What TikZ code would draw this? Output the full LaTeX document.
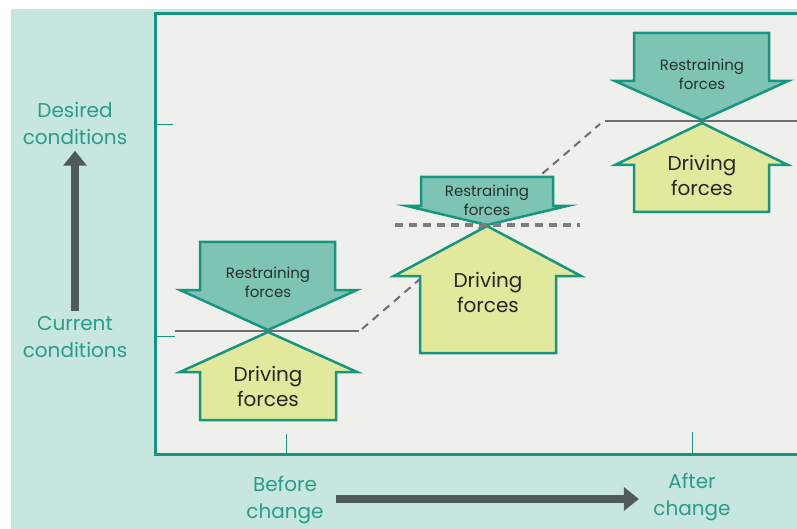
\documentclass[tikz,border=0pt]{standalone}
\usepackage{fontspec}
\setmainfont{Poppins}
\usetikzlibrary{arrows.meta}

\definecolor{pagebg}{HTML}{C6E6DF}
\definecolor{panelbg}{HTML}{EFF0EB}
\definecolor{frameteal}{HTML}{16967F}
\definecolor{labelteal}{HTML}{2A9C88}
\definecolor{restrainfill}{HTML}{7DC4B5}
\definecolor{drivefill}{HTML}{E3E99C}
\definecolor{levelgray}{HTML}{6E6E6E}
\definecolor{darkarrow}{HTML}{505B59}
\definecolor{darktext}{HTML}{26302E}

\begin{document}
\begin{tikzpicture}[x=1pt,y=-1pt,
  restrain/.style={fill=restrainfill, draw=frameteal, line width=2.5pt},
  drive/.style={fill=drivefill, draw=frameteal, line width=2.5pt},
  smalltext/.style={font=\fontsize{15}{19}\selectfont, text=darktext, align=center},
  bigtext/.style={font=\fontsize{20}{25}\selectfont, text=black!85, align=center},
  axislabel/.style={font=\fontsize{20}{27}\selectfont, text=labelteal, align=center},
  level/.style={draw=levelgray, line width=2pt},
  tick/.style={draw=frameteal, line width=1pt},
  bigarrow/.style={draw=darkarrow, line width=8pt, -{Triangle[width=23pt,length=15pt]}}]

  \fill[white] (0,0) rectangle (797,529);
  \useasboundingbox (0,0) rectangle (797,529);
  \fill[pagebg] (11,9) rectangle (797,529);

  % panel
  \begin{scope}
    \clip (0,0) rectangle (797,529);
    \draw[fill=panelbg, draw=frameteal, line width=3pt] (155,14) rectangle (820,454);
  \end{scope}
  \draw[tick] (155,125) -- (173,125);
  \draw[tick] (155,336) -- (175,336);
  \draw[tick] (286,434) -- (286,454);
  \draw[tick] (692,432) -- (692,454);

  % levels
  \draw[level] (175,331) -- (359,331);
  \draw[level, dash pattern=on 8pt off 6pt] (362,329) -- (600,124);
  \draw[level] (605,121) -- (797,121);

  % before change
  \draw[restrain] (200,242) -- (335,242) -- (335,290) -- (357,290) -- (268,330)
    -- (180,290) -- (200,290) -- cycle;
  \draw[drive] (268,332) -- (357,372) -- (336,372) -- (336,420) -- (200,420)
    -- (200,372) -- (180,372) -- cycle;
  \node[smalltext] (restrain1) at (268,282) {Restraining\\forces};
  \node[bigtext] (drive1) at (268,386) {Driving\\forces};

  % during change
  \draw[restrain] (421,177) -- (553,177) -- (553,206) -- (567,206) -- (487,225)
    -- (407,206) -- (421,206) -- cycle;
  \draw[drive] (487,226) -- (581,276) -- (556,276) -- (556,353) -- (420,353)
    -- (420,276) -- (394,276) -- cycle;
  \draw[draw=levelgray!90, line width=4.5pt, dash pattern=on 8pt off 6pt] (395,225) -- (580,225);
  \node[smalltext] (restrain2) at (487,200) {Restraining\\forces};
  \node[bigtext] (drive2) at (488,292) {Driving\\forces};

  % after change
  \draw[restrain] (634,33) -- (769,33) -- (769,81) -- (788,81) -- (702,120)
    -- (615,81) -- (634,81) -- cycle;
  \draw[drive] (702,123) -- (788,165) -- (769,165) -- (769,212) -- (634,212)
    -- (634,165) -- (615,165) -- cycle;
  \node[smalltext] (restrain3) at (702,74) {Restraining\\forces};
  \node[bigtext] (drive3) at (702,175) {Driving\\forces};

  % axes
  \node[axislabel] (desired) at (75,123) {Desired\\conditions};
  \node[axislabel] (current) at (75,337) {Current\\conditions};
  \node[axislabel] (before) at (285,500) {Before\\change};
  \node[axislabel] (after) at (692,497) {After\\change};
  \draw[bigarrow] ([yshift=2pt]current.north) -- ([yshift=-3pt]desired.south);
  \draw[bigarrow, shorten <=9pt, shorten >=11pt] ([yshift=1pt]before.east) -- ([yshift=1pt]before.east -| after.west);
\end{tikzpicture}
\end{document}
